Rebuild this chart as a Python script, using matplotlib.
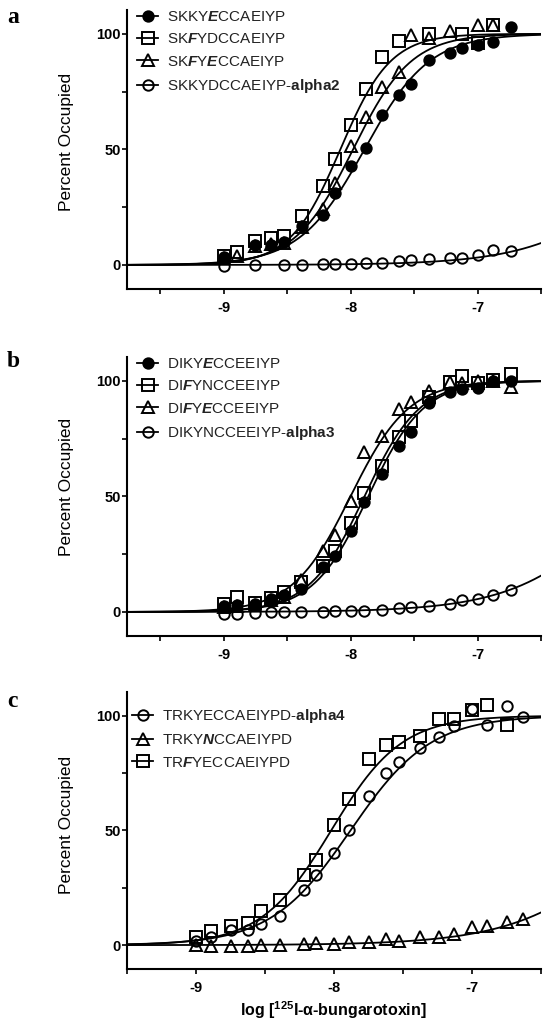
import numpy as np
import matplotlib.pyplot as plt
from matplotlib.lines import Line2D
from matplotlib.ticker import FixedLocator

plt.rcParams['font.family'] = ['Liberation Sans', 'DejaVu Sans']
plt.rcParams['mathtext.fontset'] = 'custom'
plt.rcParams['mathtext.rm'] = 'Liberation Sans'
plt.rcParams['mathtext.it'] = 'Liberation Sans:italic'
plt.rcParams['mathtext.bf'] = 'Liberation Sans:bold'
plt.rcParams['mathtext.bfit'] = 'Liberation Sans:italic:bold'

# ---- panel a ----
a_filled_x = [-9.0, -8.75, -8.63, -8.52, -8.38, -8.22, -8.12, -8.0, -7.88, -7.75, -7.62, -7.52, -7.38, -7.22, -7.12, -7.0, -6.88, -6.74]
a_filled_y = [3.5, 8.5, 8.5, 10, 17, 21.5, 31, 43, 50.5, 65, 73.5, 78.5, 88.5, 91.5, 94, 95, 96.5, 103]
a_square_x = [-9.0, -8.89, -8.75, -8.63, -8.52, -8.38, -8.22, -8.12, -8.0, -7.88, -7.75, -7.62, -7.38, -7.12, -7.0, -6.88]
a_square_y = [4, 5.5, 10.5, 11.5, 12.5, 21, 34, 46, 60.5, 76, 90, 97, 100, 100, 96, 104]
a_tri_x = [-9.0, -8.89, -8.75, -8.63, -8.52, -8.38, -8.22, -8.12, -8.0, -7.88, -7.75, -7.62, -7.52, -7.38, -7.22, -7.0, -6.88]
a_tri_y = [3, 4, 8, 9, 9.5, 16.5, 24, 35.5, 51.5, 64, 77, 83.5, 99.5, 98, 101, 104, 104]
a_open_x = [-9.0, -8.75, -8.52, -8.38, -8.22, -8.12, -8.0, -7.88, -7.75, -7.62, -7.52, -7.38, -7.22, -7.12, -7.0, -6.88, -6.74]
a_open_y = [-0.5, 0, 0, 0, 0.5, 0.5, 0.5, 1, 1, 1.5, 2, 2.5, 3, 3, 4.5, 6.5, 6]

# ---- panel b ----
b_x = [-9.0, -8.89, -8.75, -8.63, -8.52, -8.39, -8.22, -8.12, -8.0, -7.89, -7.75, -7.62, -7.52, -7.38, -7.22, -7.12, -7.0, -6.88, -6.74]
b_filled_y = [2.5, 3, 3.5, 5.5, 7.5, 10, 19.5, 24, 35, 47.5, 59.5, 72, 78, 90.5, 95, 96.5, 97, 100, 100]
b_square_y = [3.5, 6.5, 4, 6, 8.5, 13, 20, 26.5, 38.5, 51.5, 63, 75.5, 82.5, 93, 99.5, 102, 99, 100.5, 103]
b_tri_y = [2, 2.5, 3, 5, 6.5, 14, 26.5, 33.5, 48, 69, 76, 88, 91, 95.5, 99.5, 99, 100, 100, 97.5]
b_open_y = [-1, -1, -0.5, 0, 0, 0, 0, 0.5, 0.5, 0.5, 1, 1.5, 2, 2.5, 3.5, 5, 5.5, 7.5, 9.5]

# ---- panel c ----
c_x = [-9.0, -8.89, -8.75, -8.62, -8.53, -8.39, -8.22, -8.13, -8.0, -7.89, -7.75, -7.62, -7.53, -7.38, -7.24, -7.13, -7.0, -6.89, -6.75, -6.63]
c_open_y = [2, 3.5, 6.5, 6.5, 9, 12.5, 24, 30.5, 40, 50, 65, 75, 80, 86, 90.5, 95.5, 103, 96, 104, 99.5]
c_tri_y = [0, -0.5, -0.5, -0.5, 0, 0, 0.5, 1, 0.5, 1.5, 1.5, 2.5, 2, 3.5, 3.5, 5, 8, 8.5, 10, 11.5]
c_square_y = [3.5, 6, 8.5, 9.5, 15, 19.5, 30.5, 37, 52.5, 63.5, 81, 87, 88.5, 91, 98.5, 98.5, 102.5, 104.5, 96]

# fitted curve parameters (logEC50, Hill slope)
a_fits = [(-7.89, 1.7), (-8.08, 2.2), (-7.98, 1.9), (-5.52, 1.0)]
b_fits = [(-7.86, 2.0), (-7.89, 2.0), (-8.00, 1.9), (-5.77, 1.0)]
c_fits = [(-7.88, 1.5), (-5.72, 1.0), (-8.02, 1.7)]

a_labels = ["SKKY$\\mathbfit{E}$CCAEIYP", "SK$\\mathbfit{F}$YDCCAEIYP",
            "SK$\\mathbfit{F}$Y$\\mathbfit{E}$CCAEIYP", "SKKYDCCAEIYP-$\\mathbf{alpha2}$"]
b_labels = ["DIKY$\\mathbfit{E}$CCEEIYP", "DI$\\mathbfit{F}$YNCCEEIYP",
            "DI$\\mathbfit{F}$Y$\\mathbfit{E}$CCEEIYP", "DIKYNCCEEIYP-$\\mathbf{alpha3}$"]
c_labels = ["TRKYECCAEIYPD-$\\mathbf{alpha4}$", "TRKY$\\mathbfit{N}$CCAEIYPD",
            "TR$\\mathbfit{F}$YECCAEIYPD"]

STY = {
    'filled': dict(marker='o', mfc='black', ms=7.5),
    'square': dict(marker='s', mfc='none', ms=8),
    'tri': dict(marker='^', mfc='none', ms=8.5),
    'open': dict(marker='o', mfc='none', ms=7.5),
}


def hill(x, ec50, n):
    return 100.0 / (1.0 + 10 ** (n * (ec50 - x)))


def panel(ax, series, fits, labels, xlim, leg_xy):
    xs = np.linspace(xlim[0], xlim[1], 300)
    handles = []
    for (x, y, kind), (ec, n), lab in zip(series, fits, labels):
        ax.plot(xs, hill(xs, ec, n), color='black', lw=1.3, zorder=2)
        ax.plot(x, y, ls='none', mec='black', mew=1.4, zorder=3, **STY[kind])
        handles.append(Line2D([], [], color='black', lw=1.3, mec='black', mew=1.4, **STY[kind]))
    ax.set_xlim(*xlim)
    ax.set_ylim(-10.4, 110.3)
    ax.spines['top'].set_visible(False)
    ax.spines['right'].set_visible(False)
    for s in ('left', 'bottom'):
        ax.spines[s].set_linewidth(1.5)
    ax.yaxis.set_major_locator(FixedLocator([0, 50, 100]))
    ax.yaxis.set_minor_locator(FixedLocator([25, 75]))
    ax.xaxis.set_major_locator(FixedLocator([-9, -8, -7]))
    ax.xaxis.set_minor_locator(FixedLocator([-9.5, -8.5, -7.5, -6.5]))
    ax.set_xticklabels(['-9', '-8', '-7'])
    ax.tick_params(which='both', length=3.5, width=1.2, labelsize=10.5)
    ax.tick_params(axis='x', pad=5)
    ax.tick_params(axis='y', pad=1)
    for t in ax.get_xticklabels() + ax.get_yticklabels():
        t.set_fontweight('bold')
    ax.legend(handles, labels, loc='upper left', bbox_to_anchor=leg_xy,
              bbox_transform=fig.transFigure, frameon=False, fontsize=11,
              handlelength=1.4, handletextpad=0.55, labelspacing=0.55,
              borderpad=0, borderaxespad=0, labelcolor='#222222')


fig = plt.figure(figsize=(5.54, 10.24), dpi=100)
H = 1024.0
L, W = 127 / 554, 414 / 554
ax_a = fig.add_axes([L, 1 - 289 / H, W, 279 / H])
ax_b = fig.add_axes([L, 1 - 636 / H, W, 279 / H])
ax_c = fig.add_axes([L, 1 - 969 / H, W, 277 / H])

panel(ax_a, [(a_filled_x, a_filled_y, 'filled'), (a_square_x, a_square_y, 'square'),
             (a_tri_x, a_tri_y, 'tri'), (a_open_x, a_open_y, 'open')],
      a_fits, a_labels, (-9.76, -6.5), (137 / 554, 1 - 10 / H))
panel(ax_b, [(b_x, b_filled_y, 'filled'), (b_x, b_square_y, 'square'),
             (b_x, b_tri_y, 'tri'), (b_x, b_open_y, 'open')],
      b_fits, b_labels, (-9.76, -6.5), (137 / 554, 1 - 357 / H))
panel(ax_c, [(c_x, c_open_y, 'open'), (c_x, c_tri_y, 'tri'), (c_x[:-1], c_square_y, 'square')],
      c_fits, c_labels, (-9.5, -6.5), (132 / 554, 1 - 707 / H))

for lab, yb in (('a', 23), ('b', 367), ('c', 707)):
    fig.text(7 / 554, 1 - yb / H, lab, family='Liberation Serif', weight='bold',
             size=17, va='baseline', ha='left')

for yc in (142, 487, 825):
    fig.text(66 / 554, 1 - yc / H, 'Percent Occupied', rotation=90, ha='center',
             va='center', size=12.5)

fig.text(333 / 554, 1 - 1010 / H, 'log [$^{\\mathbf{125}}$I-α-bungarotoxin]',
         ha='center', va='center', size=11.5, weight='bold')

fig.savefig('out.png', dpi=100)
